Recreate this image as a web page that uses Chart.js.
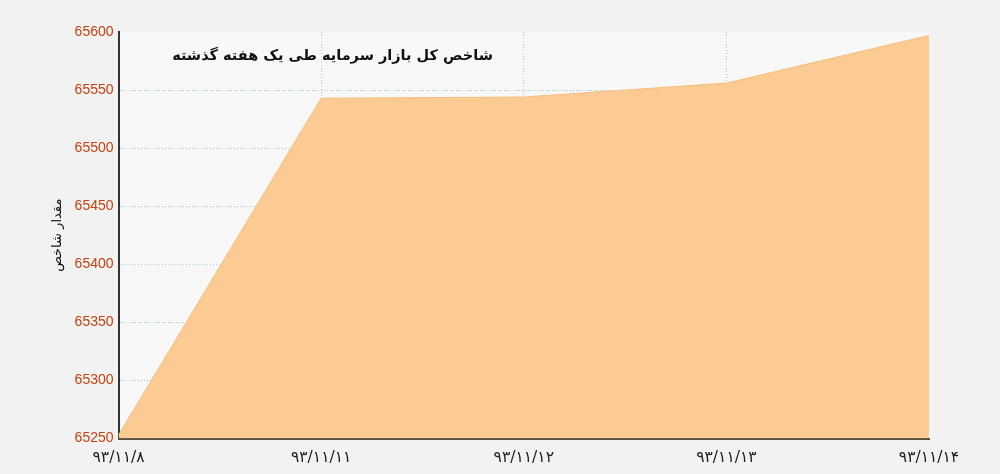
<!DOCTYPE html>
<html>
<head>
<meta charset="utf-8">
<script src="https://cdn.jsdelivr.net/npm/chart.js@4"></script>
<style>
  html, body { margin: 0; padding: 0; background: #f2f2f2; }
  #wrap { width: 1000px; height: 474px; }
</style>
</head>
<body>
<div id="wrap"><canvas id="indexChart" width="1000" height="474"></canvas></div>
<script>
// تاریخ‌ها و مقدار شاخص
const dates = ['۹۳/۱۱/۸', '۹۳/۱۱/۱۱', '۹۳/۱۱/۱۲', '۹۳/۱۱/۱۳', '۹۳/۱۱/۱۴']
const indexValues = [65253, 65543, 65544, 65556, 65597]
const chartTitle = 'شاخص کل بازار سرمایه طی یک هفته گذشته'
const yTitle = 'مقدار شاخص'

const gridBlue = '#a9d3dc'

// پس‌زمینه ناحیه نمودار و عنوان داخل آن
const areaPlugin = {
  id: 'areaBg',
  beforeDraw(chart) {
    const { ctx, chartArea: a } = chart
    ctx.save()
    ctx.fillStyle = '#f8f8f8'
    ctx.fillRect(a.left, a.top, a.right - a.left, a.bottom - a.top)
    ctx.restore()
  },
  afterDatasetsDraw(chart) {
    const { ctx, chartArea: a } = chart
    ctx.save()
    ctx.font = 'bold 14.5px "DejaVu Sans", sans-serif'
    ctx.fillStyle = '#111'
    ctx.direction = 'rtl'
    ctx.textAlign = 'center'
    ctx.textBaseline = 'middle'
    ctx.fillText(chartTitle, a.left + 214, a.top + 24)
    ctx.restore()
  },
}

new Chart(document.getElementById('indexChart'), {
  type: 'line',
  data: {
    labels: dates,
    datasets: [
      {
        label: yTitle,
        data: indexValues,
        fill: true,
        backgroundColor: '#fbcb93',
        borderColor: '#f6bd7c',
        borderWidth: 1,
        pointRadius: 0,
        tension: 0,
      },
    ],
  },
  options: {
    responsive: false,
    animation: false,
    layout: { padding: { left: 39, right: 71, top: 32, bottom: -4 } },
    plugins: {
      legend: { display: false },
      tooltip: { enabled: false },
    },
    scales: {
      x: {
        offset: false,
        grid: {
          color: ctx => (ctx.index === dates.length - 1 ? 'rgba(0,0,0,0)' : gridBlue),
          drawTicks: false,
        },
        border: { color: '#5a4d42', width: 2, dash: [1, 2] },
        ticks: {
          color: '#222',
          font: { family: '"DejaVu Sans", sans-serif', size: 15.5, lineHeight: 1 },
          padding: 12,
          maxRotation: 0,
        },
      },
      y: {
        min: 65250,
        max: 65600,
        grid: {
          color: ctx => (ctx.tick && ctx.tick.value === 65600 ? 'rgba(0,0,0,0)' : gridBlue),
          drawTicks: false,
        },
        border: { color: '#333', width: 2, dash: [1, 2] },
        ticks: {
          stepSize: 50,
          color: '#c8400e',
          font: { family: '"Liberation Sans", sans-serif', size: 14 },
          padding: 5,
          callback: v => String(v),
        },
        title: {
          display: true,
          text: yTitle,
          color: '#111',
          font: { family: '"DejaVu Sans", sans-serif', size: 13 },
          padding: { top: 11, bottom: 4 },
        },
      },
    },
  },
  plugins: [areaPlugin],
})
</script>
</body>
</html>
